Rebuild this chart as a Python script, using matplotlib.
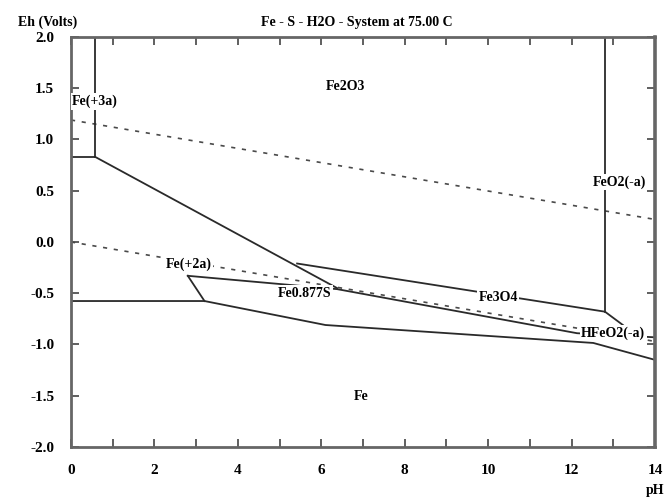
import matplotlib
matplotlib.use("Agg")
from matplotlib import pyplot as plt
from matplotlib.ticker import MultipleLocator, FuncFormatter

plt.rcParams['font.family'] = ['Liberation Serif', 'DejaVu Serif']
plt.rcParams['font.weight'] = 'bold'
plt.rcParams['axes.unicode_minus'] = False

TITLE = "Fe - S - H2O - System at 75.00 C"

# phase boundaries (pH, Eh in volts)
Fe3a_Fe2O3_pH = [0.58, 0.58]
Fe3a_Fe2O3_Eh = [0.83, 2.0]
Fe3a_Fe2a_pH = [0.0, 0.58]
Fe3a_Fe2a_Eh = [0.83, 0.83]
Fe2a_ox_pH = [0.58, 6.38]
Fe2a_ox_Eh = [0.83, -0.45]
Fe2O3_Fe3O4_pH = [5.42, 12.8, 13.23]
Fe2O3_Fe3O4_Eh = [-0.21, -0.68, -0.81]
FeO2_pH = [12.8, 12.8]
FeO2_Eh = [-0.68, 2.0]
FeS_top_pH = [2.8, 6.38, 12.13, 14.0]
FeS_top_Eh = [-0.33, -0.46, -0.89, -0.93]
Fe2a_FeS_pH = [2.8, 3.2]
Fe2a_FeS_Eh = [-0.33, -0.576]
Fe_top_pH = [0.0, 3.2, 6.1, 12.52, 14.0]
Fe_top_Eh = [-0.576, -0.576, -0.81, -0.985, -1.15]

# water stability limits (dotted)
O2_pH = [0.0, 14.0]
O2_Eh = [1.19, 0.22]
H2_pH = [0.0, 14.0]
H2_Eh = [0.0, -0.97]

# region labels
Labels = ["Fe(+3a)", "Fe2O3", "FeO2(-a)", "Fe(+2a)", "Fe0.877S", "Fe3O4", "HFeO2(-a)", "Fe"]
Label_pH = [0.03, 6.57, 13.14, 2.83, 5.61, 10.24, 13.0, 6.95]
Label_Eh = [1.37, 1.52, 0.585, -0.215, -0.50, -0.546, -0.89, -1.51]
Label_ha = ["left", "center", "center", "center", "center", "center", "center", "center"]

fig = plt.figure(figsize=(6.66, 5.01), dpi=100)
ax = fig.add_axes([0.1066, 0.1078, 0.8769, 0.8184])

LineColor = "#2a2a2a"
for xs, ys in [(Fe3a_Fe2O3_pH, Fe3a_Fe2O3_Eh), (Fe3a_Fe2a_pH, Fe3a_Fe2a_Eh),
               (Fe2a_ox_pH, Fe2a_ox_Eh), (Fe2O3_Fe3O4_pH, Fe2O3_Fe3O4_Eh),
               (FeO2_pH, FeO2_Eh), (FeS_top_pH, FeS_top_Eh),
               (Fe2a_FeS_pH, Fe2a_FeS_Eh), (Fe_top_pH, Fe_top_Eh)]:
        ax.plot(xs, ys, color=LineColor, linewidth=1.3, zorder=2)

ax.plot(O2_pH, O2_Eh, color="#4a4a4a", linestyle=(0, (2.5, 4)), linewidth=1.2, zorder=1)
ax.plot(H2_pH, H2_Eh, color="#4a4a4a", linestyle=(0, (2.5, 4)), linewidth=1.2, zorder=1)

for name, x, y, ha in zip(Labels, Label_pH, Label_Eh, Label_ha):
        ax.text(x, y, name, ha=ha, va="center", fontsize=10, fontweight="bold", zorder=5,
                bbox=dict(facecolor="white", edgecolor="none", pad=1.0))

ax.set_xlim(0, 14)
ax.set_ylim(-2.0, 2.0)
ax.xaxis.set_major_locator(MultipleLocator(1))
ax.xaxis.set_major_formatter(FuncFormatter(lambda v, p: "%d" % v if int(round(v)) % 2 == 0 else ""))
ax.yaxis.set_major_locator(MultipleLocator(0.5))
ax.yaxis.set_major_formatter(FuncFormatter(lambda v, p: "%.1f" % v))
ax.tick_params(direction="in", length=6, width=1.2, color="#444444", top=True, right=True,
               labelsize=11, pad=12)
for s in ax.spines.values():
        s.set_linewidth(2)
        s.set_color("#666666")
ax.spines["right"].set_linewidth(2.6)

fig.text(0.027, 0.956, "Eh (Volts)", fontsize=10, fontweight="bold", va="center")
fig.text(0.536, 0.956, TITLE, fontsize=10, fontweight="bold", ha="center", va="center")
fig.text(0.998, 0.008, "pH", fontsize=10, fontweight="bold", ha="right", va="bottom")

plt.savefig("out.png", dpi=100)
